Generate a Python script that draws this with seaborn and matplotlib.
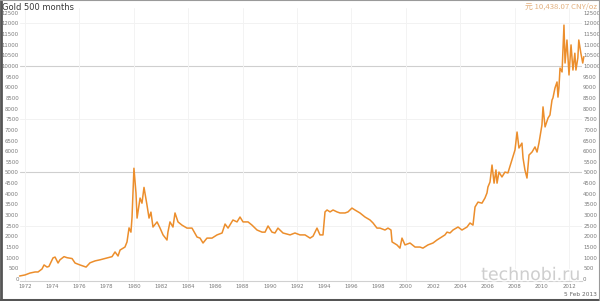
import matplotlib
matplotlib.use("Agg")
import matplotlib.pyplot as plt
import matplotlib.patheffects as pe
import seaborn as sns
import pandas as pd

# ---- data ----
years = [1971.6, 1972.00, 1972.37, 1972.74, 1972.96, 1973.25, 1973.40, 1973.62, 1973.76,
         1974.06, 1974.21, 1974.43, 1974.57, 1974.87, 1975.09, 1975.46, 1975.68, 1976.04,
         1976.49, 1976.78, 1977.15, 1977.51, 1978.03, 1978.40, 1978.62, 1978.84, 1978.99,
         1979.35, 1979.50, 1979.65, 1979.79, 1979.87, 1980.01, 1980.16, 1980.24, 1980.46,
         1980.60, 1980.75, 1980.97, 1981.12, 1981.26, 1981.41, 1981.71, 1981.93, 1982.15,
         1982.44, 1982.51, 1982.66, 1982.88, 1983.03, 1983.25, 1983.54, 1983.91, 1984.28,
         1984.65, 1984.87, 1985.09, 1985.38, 1985.75, 1986.12, 1986.49, 1986.71, 1986.93,
         1987.29, 1987.59, 1987.81, 1988.03, 1988.40, 1988.69, 1989.06, 1989.43, 1989.65,
         1989.87, 1990.16, 1990.38, 1990.60, 1990.97, 1991.49, 1991.85, 1992.22, 1992.59,
         1992.96, 1993.18, 1993.47, 1993.69, 1993.91, 1994.06, 1994.21, 1994.43, 1994.65,
         1994.94, 1995.16, 1995.53, 1995.75, 1996.04, 1996.26, 1996.63, 1997.00, 1997.37,
         1997.59, 1997.88, 1998.10, 1998.47, 1998.69, 1998.91, 1998.99, 1999.35, 1999.57,
         1999.72, 1999.94, 2000.31, 2000.68, 2001.04, 2001.26, 2001.63, 2002.00, 2002.29,
         2002.51, 2002.88, 2003.03, 2003.25, 2003.47, 2003.84, 2004.13, 2004.50, 2004.72,
         2004.94, 2005.09, 2005.31, 2005.60, 2005.82, 2005.97, 2006.04, 2006.19, 2006.34,
         2006.49, 2006.63, 2006.71, 2006.85, 2007.07, 2007.29, 2007.51, 2007.74, 2007.88,
         2008.03, 2008.18, 2008.32, 2008.54, 2008.62, 2008.76, 2008.91, 2009.06, 2009.28,
         2009.50, 2009.65, 2009.79, 2010.01, 2010.09, 2010.24, 2010.46, 2010.60, 2010.75,
         2010.82, 2010.97, 2011.12, 2011.19, 2011.26, 2011.34, 2011.49, 2011.63, 2011.71,
         2011.85, 2012.00, 2012.15, 2012.29, 2012.43, 2012.51, 2012.65, 2012.72, 2012.87,
         2013.01, 2013.09]
values = [140, 190, 280, 330, 330, 470, 660, 560, 590,
          990, 1030, 750, 900, 1050, 1000, 960, 750, 660,
          560, 760, 850, 900, 990, 1050, 1270, 1080, 1360,
          1500, 1740, 2400, 2200, 2900, 5200, 4040, 2860, 3800,
          3560, 4300, 3470, 2860, 3140, 2440, 2680, 2390, 2070,
          1830, 2200, 2680, 2440, 3100, 2680, 2530, 2390, 2390,
          1970, 1920, 1690, 1920, 1920, 2070, 2160, 2580, 2390,
          2770, 2680, 2910, 2680, 2680, 2530, 2300, 2200, 2200,
          2490, 2200, 2160, 2390, 2160, 2070, 2160, 2070, 2070,
          1920, 2010, 2390, 2070, 2070, 3150, 3240, 3150, 3240,
          3150, 3100, 3100, 3150, 3330, 3240, 3100, 2910, 2770,
          2630, 2390, 2390, 2300, 2390, 2300, 1740, 1600, 1450,
          1920, 1600, 1690, 1500, 1500, 1450, 1600, 1690, 1830,
          1920, 2070, 2200, 2160, 2300, 2440, 2300, 2440, 2630,
          2530, 3380, 3610, 3560, 3800, 4040, 4320, 4550, 5350,
          4500, 5120, 4500, 5020, 4790, 5020, 4980, 5450, 5730,
          6060, 6900, 6150, 6380, 5680, 5120, 4740, 5820, 5960,
          6200, 5960, 6380, 7230, 8080, 7140, 7560, 7700, 8400,
          8500, 8970, 9250, 8540, 8970, 9900, 9720, 11920, 10140,
          11220, 9580, 10990, 9810, 10600, 9810, 10380, 11220, 10610,
          10140, 10438]
x_ticks = list(range(1972, 2014, 2))
y_ticks = list(range(0, 12501, 500))

W, H = 600, 301
fig = plt.figure(figsize=(W / 100, H / 100), dpi=100)
sns.set_style("white")
plt.rcParams['font.family'] = ['DejaVu Sans']

L, R, B, T = 20, 582, 281, 8
ax = fig.add_axes([L / W, (H - B) / H, (R - L) / W, (B - T) / H])

df = pd.DataFrame({"year": years, "value": values})
sns.lineplot(data=df, x="year", y="value", ax=ax, color="#ec8e2c", lw=1.1,
             clip_on=False)

ax.set_xlim(1971.632, 2012.956)
ax.set_ylim(-94, 12723)
ax.set_xlabel("")
ax.set_ylabel("")

# grid
for yv in (5000, 10000):
    ax.axhline(yv, color="#cfcfcf", lw=0.8, zorder=0)
for yv in (2500, 7500, 12000):
    ax.axhline(yv, color="#f2f2f2", lw=0.7, zorder=0)
for xv in range(1972, 2013, 4):
    ax.axvline(xv, color="#f3f3f3", lw=0.7, zorder=0)

ax.set_xticks(x_ticks)
ax.set_xticklabels([str(v) for v in x_ticks])
ax.set_yticks(y_ticks)
ax.set_yticklabels([str(v) for v in y_ticks])
ax.tick_params(axis="both", length=0, labelsize=3.9, colors="#7a7a7a")
ax.tick_params(axis="y", pad=0.8, labelleft=True, labelright=True)
ax.tick_params(axis="x", pad=2.5)

for s in ("top", "left", "right"):
    ax.spines[s].set_visible(False)
ax.spines["bottom"].set_color("#d0d0d0")
ax.spines["bottom"].set_linewidth(0.8)

# texts
fig.text(2 / W, 1 - 7 / H, "Gold 500 months", fontsize=6, color="#3a3a3a",
         ha="left", va="center")
fig.text(597 / W, 1 - 7 / H, "元 10,438.07 CNY/oz", fontsize=5.6,
         color="#e3b07e", ha="right", va="center",
         family=["Noto Sans CJK SC", "DejaVu Sans"])
fig.text(597 / W, 1 - 295 / H, "5 Feb 2013", fontsize=4.2, color="#666666",
         ha="right", va="center")
fig.text(531 / W, 1 - 275 / H, "technobi.ru", fontsize=12.5, color="#cccccc",
         ha="center", va="center", alpha=0.95,
         path_effects=[pe.withStroke(linewidth=2.0, foreground="white")])

# frame
fig.add_artist(plt.Line2D([0.0015, 0.0015], [0, 1], transform=fig.transFigure,
                          color="#555555", lw=2.0))
fig.add_artist(plt.Line2D([0, 1], [0.003, 0.003], transform=fig.transFigure,
                          color="#555555", lw=2.2))
fig.add_artist(plt.Line2D([0, 1], [0.999, 0.999], transform=fig.transFigure,
                          color="#9a9a9a", lw=0.8))
fig.add_artist(plt.Line2D([0.999, 0.999], [0, 1], transform=fig.transFigure,
                          color="#9a9a9a", lw=0.8))

fig.savefig("out.png", dpi=100)
